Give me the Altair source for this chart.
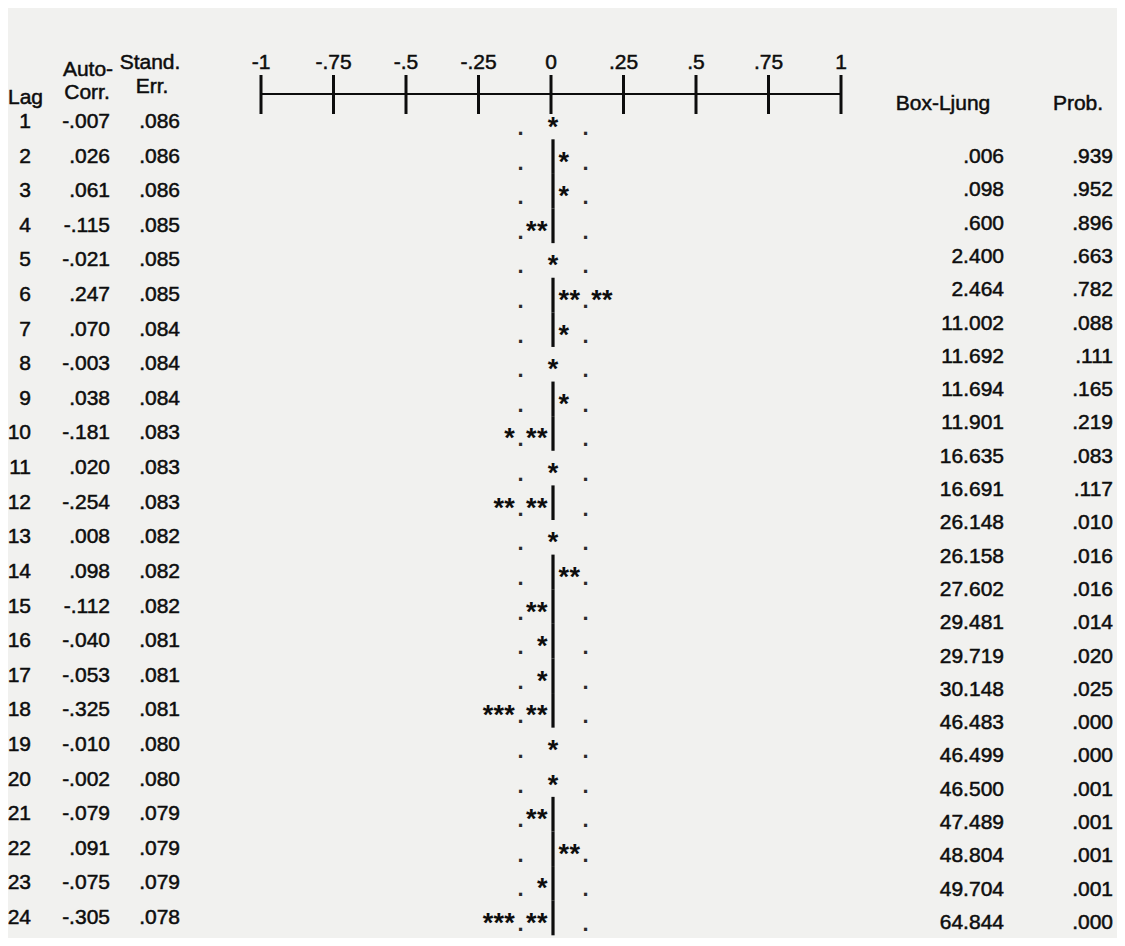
import math
import altair as alt
import pandas as pd

# ---------------- data ----------------
lags = list(range(1, 25))
acf = [-0.007, 0.026, 0.061, -0.115, -0.021, 0.247, 0.070, -0.003, 0.038, -0.181, 0.020, -0.254,
       0.008, 0.098, -0.112, -0.040, -0.053, -0.325, -0.010, -0.002, -0.079, 0.091, -0.075, -0.305]
std_err = [0.086, 0.086, 0.086, 0.085, 0.085, 0.085, 0.084, 0.084, 0.084, 0.083, 0.083, 0.083,
           0.082, 0.082, 0.082, 0.081, 0.081, 0.081, 0.080, 0.080, 0.079, 0.079, 0.079, 0.078]
box_ljung = [0.006, 0.098, 0.600, 2.400, 2.464, 11.002, 11.692, 11.694, 11.901, 16.635, 16.691, 26.148,
             26.158, 27.602, 29.481, 29.719, 30.148, 46.483, 46.499, 46.500, 47.489, 48.804, 49.704, 64.844]
prob = [0.939, 0.952, 0.896, 0.663, 0.782, 0.088, 0.111, 0.165, 0.219, 0.083, 0.117, 0.010,
        0.016, 0.016, 0.014, 0.020, 0.025, 0.000, 0.000, 0.001, 0.001, 0.001, 0.001, 0.000]
axis_ticks = [-1, -0.75, -0.5, -0.25, 0, 0.25, 0.5, 0.75, 1]
axis_tick_labels = ["-1", "-.75", "-.5", "-.25", "0", ".25", ".5", ".75", "1"]

FONT = "Liberation Sans"
FS = 21
INK = "#0d0d0d"
BG = "#f1f1ef"


def spss(v):
    s = f"{v:.3f}"
    if s.startswith("0."):
        s = s[1:]
    elif s.startswith("-0."):
        s = "-" + s[2:]
    return s


table = pd.DataFrame({
    "lag": lags,
    "lag_txt": [str(v) for v in lags],
    "acf_txt": [spss(v) for v in acf],
    "se_txt": [spss(v) for v in std_err],
    "bl_txt": [spss(v) for v in box_ljung],
    "p_txt": [spss(v) for v in prob],
})

# character plot of SPSS: one character = .05 of correlation
STEP = 0.05
stars, dots, bars = [], [], []
for lag, r, se in zip(lags, acf, std_err):
    n = math.ceil(abs(r) / STEP - 0.5)
    sign = 1 if r >= 0 else -1
    lim = round(2 * se / STEP)
    if n <= 0:
        stars.append({"lag": lag, "pos": 0.0})
    else:
        bars.append({"lag": lag, "lo": lag - 0.5, "hi": lag + 0.5})
        for k in range(1, n + 1):
            if k != lim:
                stars.append({"lag": lag, "pos": sign * k * STEP})
    for side in (-1, 1):
        dots.append({"lag": lag, "pos": side * lim * STEP})
stars = pd.DataFrame(stars)
dots = pd.DataFrame(dots)
bars = pd.DataFrame(bars)
axis_df = pd.DataFrame({"tick": axis_ticks, "label": axis_tick_labels})

# ---------------- scales ----------------
y_left = alt.Scale(domain=[1, 24], range=[114, 910], nice=False, zero=False)
y_right = alt.Scale(domain=[1, 24], range=[149, 915], nice=False, zero=False)
x_axis = alt.Scale(domain=[-1, 1], range=[253, 833], nice=False, zero=False)
x_star = alt.Scale(domain=[-1, 1], range=[328, 762], nice=False, zero=False)

txt = dict(font=FONT, fontSize=FS, color=INK, stroke=INK, strokeWidth=0.5)


def column(field, xpx, yscale, align="right"):
    return alt.Chart(table).mark_text(align=align, baseline="middle", **txt).encode(
        x=alt.value(xpx),
        y=alt.Y("lag:Q", scale=yscale, axis=None),
        text=f"{field}:N",
    )


def label(text, xpx, ypx, align="center"):
    return alt.Chart(pd.DataFrame({"t": [text]})).mark_text(align=align, baseline="middle", **txt).encode(
        x=alt.value(xpx), y=alt.value(ypx), text="t:N"
    )


headers = [
    label("Lag", 0, 90, align="left"),
    label("Auto-", 80, 62),
    label("Corr.", 79, 85),
    label("Stand.", 142, 55),
    label("Err.", 144, 79),
    label("Box-Ljung", 935, 96),
    label("Prob.", 1070, 96),
]

cols = [
    column("lag_txt", 23, y_left),
    column("acf_txt", 102, y_left),
    column("se_txt", 172, y_left),
    column("bl_txt", 996, y_right),
    column("p_txt", 1105, y_right),
]

axis_line = alt.Chart(axis_df).mark_rule(color=INK, strokeWidth=2.2).encode(
    x=alt.X("min(tick):Q", scale=x_axis, axis=None),
    x2="max(tick):Q",
    y=alt.value(86),
)
axis_ticks_marks = alt.Chart(axis_df).mark_rule(color=INK, strokeWidth=3).encode(
    x=alt.X("tick:Q", scale=x_axis, axis=None),
    y=alt.value(67),
    y2=alt.value(106),
)
axis_labels = alt.Chart(axis_df).mark_text(baseline="middle", **txt).encode(
    x=alt.X("tick:Q", scale=x_axis, axis=None),
    y=alt.value(55),
    text="label:N",
)

zero_bars = alt.Chart(bars).mark_rule(color=INK, strokeWidth=3.2).encode(
    x=alt.X(datum=0, scale=x_star, axis=None),
    y=alt.Y("lo:Q", scale=y_left, axis=None),
    y2="hi:Q",
)
star_marks = alt.Chart(stars).mark_text(
    text="*", font=FONT, fontSize=27, fontWeight="bold", color=INK, baseline="middle", dy=6
).encode(
    x=alt.X("pos:Q", scale=x_star, axis=None),
    y=alt.Y("lag:Q", scale=y_left, axis=None),
)
dot_marks = alt.Chart(dots).mark_text(
    text=".", font=FONT, fontSize=22, fontWeight="bold", color="#2a2a2a", baseline="middle", dy=6
).encode(
    x=alt.X("pos:Q", scale=x_star, axis=None),
    y=alt.Y("lag:Q", scale=y_left, axis=None),
)

chart = alt.layer(
    *headers, *cols, axis_line, axis_ticks_marks, axis_labels, zero_bars, star_marks, dot_marks
).resolve_scale(x="independent", y="independent").properties(
    width=1109, height=930, autosize=alt.AutoSizeParams(type="none"), padding=0, background=BG
).configure_view(stroke=None)

chart.save("out.html", embed_options={"renderer": "svg", "actions": False})
